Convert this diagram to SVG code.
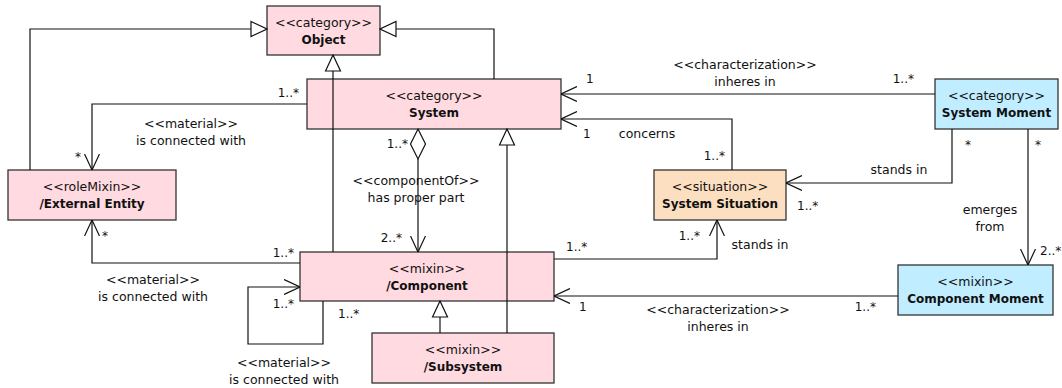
<svg xmlns="http://www.w3.org/2000/svg" width="1062" height="388" viewBox="0 0 1062 388">
<style>
.box{stroke:#333;stroke-width:1.3}
.pink{fill:#FFDAE0}
.blue{fill:#C0EDFF}
.orange{fill:#FCDEC0}
text{font-family:"DejaVu Sans","Liberation Sans",sans-serif;fill:#111}
.st{font-size:12.5px;text-anchor:middle}
.nm{font-size:12px;font-weight:bold;text-anchor:middle}
.lb{font-size:12.5px;text-anchor:middle}
.ml{font-size:12px}
.end{text-anchor:end}
.c{fill:none;stroke:#111;stroke-width:1.2}
.gen{marker-end:url(#tri)}
.asc{marker-end:url(#arr)}
</style>
<defs>
<marker id="arr" viewBox="0 0 16 16" refX="16" refY="8" markerWidth="16" markerHeight="16" markerUnits="userSpaceOnUse" orient="auto">
<path d="M0,0.5 L16,8 L0,15.5" fill="none" stroke="#111" stroke-width="1.2"/>
</marker>
<marker id="tri" viewBox="-1 -1 18 18" refX="16" refY="8" markerWidth="18" markerHeight="18" markerUnits="userSpaceOnUse" orient="auto">
<path d="M0,0.5 L16,8 L0,15.5 Z" fill="#fff" stroke="#111" stroke-width="1.2"/>
</marker>
</defs>

<g id="object">
<rect class="box pink" x="267" y="6" width="113" height="49"/>
<text class="st" x="323.5" y="27">&lt;&lt;category&gt;&gt;</text>
<text class="nm" x="323.5" y="44">Object</text>
</g>
<g id="system">
<rect class="box pink" x="307" y="79" width="254" height="50"/>
<text class="st" x="434" y="100">&lt;&lt;category&gt;&gt;</text>
<text class="nm" x="434" y="117">System</text>
</g>
<g id="external-entity">
<rect class="box pink" x="8" y="170" width="168" height="50"/>
<text class="st" x="92" y="191">&lt;&lt;roleMixin&gt;&gt;</text>
<text class="nm" x="92" y="208">/External Entity</text>
</g>
<g id="component">
<rect class="box pink" x="300" y="252" width="254" height="49"/>
<text class="st" x="427" y="273">&lt;&lt;mixin&gt;&gt;</text>
<text class="nm" x="427" y="290">/Component</text>
</g>
<g id="subsystem">
<rect class="box pink" x="372" y="333" width="182" height="50"/>
<text class="st" x="463" y="354">&lt;&lt;mixin&gt;&gt;</text>
<text class="nm" x="463" y="371">/Subsystem</text>
</g>
<g id="system-situation">
<rect class="box orange" x="654" y="170" width="132" height="50"/>
<text class="st" x="720" y="191">&lt;&lt;situation&gt;&gt;</text>
<text class="nm" x="720" y="208">System Situation</text>
</g>
<g id="system-moment">
<rect class="box blue" x="935" y="79" width="123" height="50"/>
<text class="st" x="996.5" y="100">&lt;&lt;category&gt;&gt;</text>
<text class="nm" x="996.5" y="117">System Moment</text>
</g>
<g id="component-moment">
<rect class="box blue" x="898" y="265" width="155" height="50"/>
<text class="st" x="975.5" y="286">&lt;&lt;mixin&gt;&gt;</text>
<text class="nm" x="975.5" y="303">Component Moment</text>
</g>

<g id="connectors">
<!-- generalizations -->
<polyline class="c gen" points="30,170 30,29 267,29"/>
<polyline class="c gen" points="494,79 494,29 380,29"/>
<polyline class="c gen" points="333,252 333,55"/>
<polyline class="c gen" points="507,333 507,129"/>
<polyline class="c gen" points="440,333 440,301"/>

<!-- material System -> External Entity -->
<polyline class="c asc" points="307,104 92,104 92,170"/>
<text class="ml end" x="299" y="97">1..*</text>
<text class="ml" x="75" y="161">*</text>
<text class="lb" x="191" y="128">&lt;&lt;material&gt;&gt;</text>
<text class="lb" x="191" y="145">is connected with</text>

<!-- material Component -> External Entity -->
<polyline class="c asc" points="300,263 92,263 92,220"/>
<text class="ml" x="102" y="240">*</text>
<text class="ml end" x="294" y="257">1..*</text>
<text class="lb" x="153" y="284">&lt;&lt;material&gt;&gt;</text>
<text class="lb" x="153" y="301">is connected with</text>

<!-- material self loop -->
<polyline class="c asc" points="323,301 323,344 248,344 248,287 300,287"/>
<text class="ml end" x="294" y="308">1..*</text>
<text class="ml" x="338" y="318">1..*</text>
<text class="lb" x="284" y="367">&lt;&lt;material&gt;&gt;</text>
<text class="lb" x="284" y="384">is connected with</text>

<!-- componentOf -->
<polygon points="418,129 425.5,144 418,159 410.5,144" fill="#fff" stroke="#111" stroke-width="1.2"/>
<polyline class="c asc" points="418,159 418,252"/>
<text class="ml end" x="408" y="148">1..*</text>
<text class="ml end" x="402" y="242">2..*</text>
<text class="lb" x="416" y="185">&lt;&lt;componentOf&gt;&gt;</text>
<text class="lb" x="416" y="202">has proper part</text>

<!-- characterization System Moment -> System -->
<polyline class="c asc" points="935,94 561,94"/>
<text class="ml" x="586" y="83">1</text>
<text class="ml end" x="914" y="83">1..*</text>
<text class="lb" x="745" y="69">&lt;&lt;characterization&gt;&gt;</text>
<text class="lb" x="745" y="86">inheres in</text>

<!-- concerns -->
<polyline class="c asc" points="732,170 732,119 561,119"/>
<text class="ml" x="583" y="138">1</text>
<text class="lb" x="647" y="138">concerns</text>
<text class="ml end" x="725" y="160">1..*</text>

<!-- stands in System Moment -> System Situation -->
<polyline class="c asc" points="952,129 952,183 786,183"/>
<text class="ml" x="965" y="149">*</text>
<text class="lb" x="899" y="174">stands in</text>
<text class="ml" x="797" y="210">1..*</text>

<!-- emerges from -->
<polyline class="c asc" points="1028,129 1028,265"/>
<text class="ml" x="1035" y="149">*</text>
<text class="lb" x="990" y="214">emerges</text>
<text class="lb" x="990" y="231">from</text>
<text class="ml" x="1040" y="255">2..*</text>

<!-- stands in Component -> System Situation -->
<polyline class="c asc" points="554,259 717,259 717,220"/>
<text class="ml" x="566" y="251">1..*</text>
<text class="ml end" x="700" y="240">1..*</text>
<text class="lb" x="760" y="249">stands in</text>

<!-- characterization Component Moment -> Component -->
<polyline class="c asc" points="898,296 554,296"/>
<text class="ml" x="579" y="311">1</text>
<text class="ml end" x="876" y="311">1..*</text>
<text class="lb" x="718" y="314">&lt;&lt;characterization&gt;&gt;</text>
<text class="lb" x="718" y="331">inheres in</text>
</g>
</svg>
